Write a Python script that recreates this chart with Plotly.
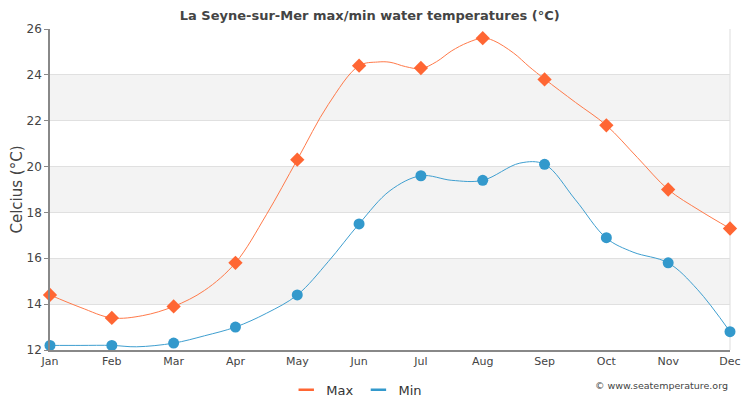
import plotly.graph_objects as go

months = ["Jan", "Feb", "Mar", "Apr", "May", "Jun", "Jul", "Aug", "Sep", "Oct", "Nov", "Dec"]
max_monthly = [14.4, 13.4, 13.9, 15.8, 20.3, 24.4, 24.3, 25.6, 23.8, 21.8, 19.0, 17.3]
min_monthly = [12.2, 12.2, 12.3, 13.0, 14.4, 17.5, 19.6, 19.4, 20.1, 16.9, 15.8, 12.8]

# finer curve points (month index positions)
max_curve_x = [0, 0.5, 1, 1.5, 2, 2.5, 3, 3.5, 4, 4.5, 5, 5.3, 5.5, 5.75, 6, 6.25, 6.5, 6.75, 7, 7.17, 7.5, 7.75, 8, 8.5, 9, 9.5, 10, 10.5, 11]
max_curve_y = [14.4, 13.85, 13.4, 13.5, 13.9, 14.6, 15.8, 17.9, 20.3, 22.7, 24.4, 24.56, 24.55, 24.36, 24.27, 24.57, 25.05, 25.4, 25.6, 25.5, 24.95, 24.36, 23.82, 22.8, 21.8, 20.4, 19.0, 18.1, 17.3]
min_curve_x = [0, 0.5, 1, 1.4, 2, 2.5, 3, 3.5, 4, 4.5, 5, 5.5, 6, 6.5, 7, 7.6, 8, 8.5, 9, 9.43, 10, 10.47, 11]
min_curve_y = [12.2, 12.2, 12.2, 12.14, 12.3, 12.62, 13.0, 13.6, 14.4, 15.85, 17.5, 18.95, 19.6, 19.4, 19.4, 20.15, 20.1, 18.55, 16.88, 16.27, 15.8, 14.65, 12.8]

MAX_LINE = "#ff7a4a"
MAX_MARK = "#ff6633"
MIN_LINE = "#3f9fd0"
MIN_MARK = "#3399cc"

fig = go.Figure()
fig.add_trace(go.Scatter(x=max_curve_x, y=max_curve_y, mode="lines", showlegend=False,
                         line=dict(color=MAX_LINE, width=1, shape="spline", smoothing=1.0),
                         hoverinfo="skip"))
fig.add_trace(go.Scatter(x=list(range(12)), y=max_monthly, mode="markers", showlegend=False,
                         marker=dict(symbol="diamond", size=11, color=MAX_MARK), cliponaxis=False))
fig.add_trace(go.Scatter(x=min_curve_x, y=min_curve_y, mode="lines", showlegend=False,
                         line=dict(color=MIN_LINE, width=1, shape="spline", smoothing=1.0),
                         hoverinfo="skip"))
fig.add_trace(go.Scatter(x=list(range(12)), y=min_monthly, mode="markers", showlegend=False,
                         marker=dict(symbol="circle", size=11, color=MIN_MARK), cliponaxis=False))
# legend entries (short dash symbols)
fig.add_trace(go.Scatter(x=[None], y=[None], mode="markers", name="Max",
                         marker=dict(symbol="line-ew-open", size=11, color=MAX_MARK,
                                     line=dict(color=MAX_MARK, width=2.5))))
fig.add_trace(go.Scatter(x=[None], y=[None], mode="markers", name="Min",
                         marker=dict(symbol="line-ew-open", size=11, color=MIN_MARK,
                                     line=dict(color=MIN_MARK, width=2.5))))

bands = [(14, 16), (18, 20), (22, 24)]
for lo, hi in bands:
    fig.add_shape(type="rect", xref="paper", yref="y", x0=0, x1=1, y0=lo, y1=hi,
                  fillcolor="#f3f3f3", line_width=0, layer="below")

fig.update_layout(
    width=742, height=392,
    margin=dict(l=42, r=20, t=21, b=50),
    paper_bgcolor="white", plot_bgcolor="white",
    font=dict(family="DejaVu Sans", color="#444444", size=11),
    title=dict(text="<b>La Seyne-sur-Mer max/min water temperatures (°C)</b>",
               x=0.4875, xanchor="center", yref="container", y=0.98, yanchor="middle",
               font=dict(size=13, color="#444444", family="DejaVu Sans")),
    showlegend=True,
    legend=dict(orientation="h", xref="container", x=0.47, xanchor="center",
                yref="container", y=0.026, yanchor="middle",
                font=dict(size=13, color="#333333"), itemwidth=30),
    xaxis=dict(range=[0, 11], tickvals=list(range(12)), ticktext=months, automargin=False,
               showgrid=False, zeroline=False, showline=True, linecolor="#888888", linewidth=2,
               ticks="", tickfont=dict(size=11, color="#444444"), mirror=False, fixedrange=True),
    yaxis=dict(range=[12, 26], dtick=2, showgrid=True, gridcolor="#e0e0e0", gridwidth=1,
               zeroline=False, showline=True, linecolor="#888888", linewidth=1.5, automargin=False,
               ticks="outside", ticklen=4, tickcolor="#888888",
               tickfont=dict(size=12, color="#444444"),
               title=dict(text="Celcius (°C)", font=dict(size=15, color="#444444"), standoff=10)),
)
# right border (drawn beneath the data)
fig.add_shape(type="line", xref="paper", yref="paper", x0=1, x1=1, y0=0, y1=1,
              line=dict(color="#dddddd", width=1), layer="below")
fig.add_annotation(text="© www.seatemperature.org", xref="paper", yref="paper",
                   x=1.0, xanchor="right", y=-0.11, yanchor="middle", showarrow=False,
                   font=dict(size=9.5, color="#444444"))

fig.write_html("out.html")
